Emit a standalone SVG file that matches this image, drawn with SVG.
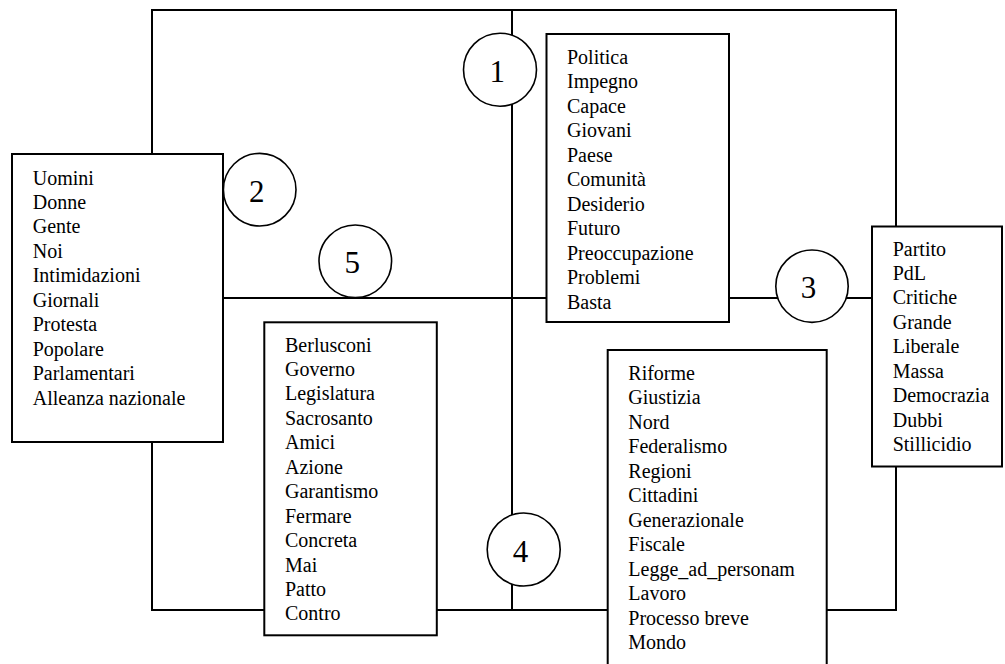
<svg xmlns="http://www.w3.org/2000/svg" width="1005" height="664" viewBox="0 0 1005 664">
<style>
.ln{fill:none;stroke:#000;stroke-width:2}
.box{fill:#fff;stroke:#000;stroke-width:2}
.cir{fill:#fff;stroke:#000;stroke-width:1.6}
.t{font-family:"Liberation Serif","Times New Roman",serif;font-size:20px;fill:#000}
.n{font-family:"Liberation Serif","Times New Roman",serif;font-size:31px;fill:#000;text-anchor:middle}
</style>
<rect width="1005" height="664" fill="#fff"/>
<g id="connectors">
<rect class="ln" x="152" y="10" width="744" height="600"/>
<line class="ln" x1="512" y1="10" x2="512" y2="610"/>
<line class="ln" x1="223" y1="298" x2="872" y2="298"/>
</g>
<g id="node-box1">
<rect class="box" x="546.5" y="34" width="182.5" height="288"/>
<text class="t" x="567" y="64"><tspan x="567">Politica</tspan><tspan x="567" dy="24.45">Impegno</tspan><tspan x="567" dy="24.45">Capace</tspan><tspan x="567" dy="24.45">Giovani</tspan><tspan x="567" dy="24.45">Paese</tspan><tspan x="567" dy="24.45">Comunità</tspan><tspan x="567" dy="24.45">Desiderio</tspan><tspan x="567" dy="24.45">Futuro</tspan><tspan x="567" dy="24.45">Preoccupazione</tspan><tspan x="567" dy="24.45">Problemi</tspan><tspan x="567" dy="24.45">Basta</tspan></text>
</g>
<g id="node-box2">
<rect class="box" x="12" y="154" width="211" height="288"/>
<text class="t" x="32.7" y="184.5"><tspan x="32.7">Uomini</tspan><tspan x="32.7" dy="24.45">Donne</tspan><tspan x="32.7" dy="24.45">Gente</tspan><tspan x="32.7" dy="24.45">Noi</tspan><tspan x="32.7" dy="24.45">Intimidazioni</tspan><tspan x="32.7" dy="24.45">Giornali</tspan><tspan x="32.7" dy="24.45">Protesta</tspan><tspan x="32.7" dy="24.45">Popolare</tspan><tspan x="32.7" dy="24.45">Parlamentari</tspan><tspan x="32.7" dy="24.45">Alleanza nazionale</tspan></text>
</g>
<g id="node-box3">
<rect class="box" x="872" y="226.5" width="130" height="240"/>
<text class="t" x="892.7" y="255.5"><tspan x="892.7">Partito</tspan><tspan x="892.7" dy="24.45">PdL</tspan><tspan x="892.7" dy="24.45">Critiche</tspan><tspan x="892.7" dy="24.45">Grande</tspan><tspan x="892.7" dy="24.45">Liberale</tspan><tspan x="892.7" dy="24.45">Massa</tspan><tspan x="892.7" dy="24.45">Democrazia</tspan><tspan x="892.7" dy="24.45">Dubbi</tspan><tspan x="892.7" dy="24.45">Stillicidio</tspan></text>
</g>
<g id="node-box4">
<rect class="box" x="607.7" y="350" width="219" height="318"/>
<text class="t" x="628.3" y="380"><tspan x="628.3">Riforme</tspan><tspan x="628.3" dy="24.45">Giustizia</tspan><tspan x="628.3" dy="24.45">Nord</tspan><tspan x="628.3" dy="24.45">Federalismo</tspan><tspan x="628.3" dy="24.45">Regioni</tspan><tspan x="628.3" dy="24.45">Cittadini</tspan><tspan x="628.3" dy="24.45">Generazionale</tspan><tspan x="628.3" dy="24.45">Fiscale</tspan><tspan x="628.3" dy="24.45">Legge_ad_personam</tspan><tspan x="628.3" dy="24.45">Lavoro</tspan><tspan x="628.3" dy="24.45">Processo breve</tspan><tspan x="628.3" dy="24.45">Mondo</tspan></text>
</g>
<g id="node-box5">
<rect class="box" x="264.3" y="322.3" width="172.5" height="313"/>
<text class="t" x="285" y="351.5"><tspan x="285">Berlusconi</tspan><tspan x="285" dy="24.45">Governo</tspan><tspan x="285" dy="24.45">Legislatura</tspan><tspan x="285" dy="24.45">Sacrosanto</tspan><tspan x="285" dy="24.45">Amici</tspan><tspan x="285" dy="24.45">Azione</tspan><tspan x="285" dy="24.45">Garantismo</tspan><tspan x="285" dy="24.45">Fermare</tspan><tspan x="285" dy="24.45">Concreta</tspan><tspan x="285" dy="24.45">Mai</tspan><tspan x="285" dy="24.45">Patto</tspan><tspan x="285" dy="24.45">Contro</tspan></text>
</g>
<g id="node-c1">
<circle class="cir" cx="500" cy="69.7" r="36.5"/>
<text class="n" x="497.3" y="82.3">1</text>
</g>
<g id="node-c2">
<circle class="cir" cx="259.7" cy="189.7" r="36.3"/>
<text class="n" x="256.7" y="201.7">2</text>
</g>
<g id="node-c3">
<circle class="cir" cx="812" cy="286.2" r="36.2"/>
<text class="n" x="808.5" y="297.5">3</text>
</g>
<g id="node-c4">
<circle class="cir" cx="523.7" cy="549.5" r="36.5"/>
<text class="n" x="520.5" y="561.5">4</text>
</g>
<g id="node-c5">
<circle class="cir" cx="355.3" cy="261.3" r="36.3"/>
<text class="n" x="352.3" y="273.3">5</text>
</g>
</svg>
